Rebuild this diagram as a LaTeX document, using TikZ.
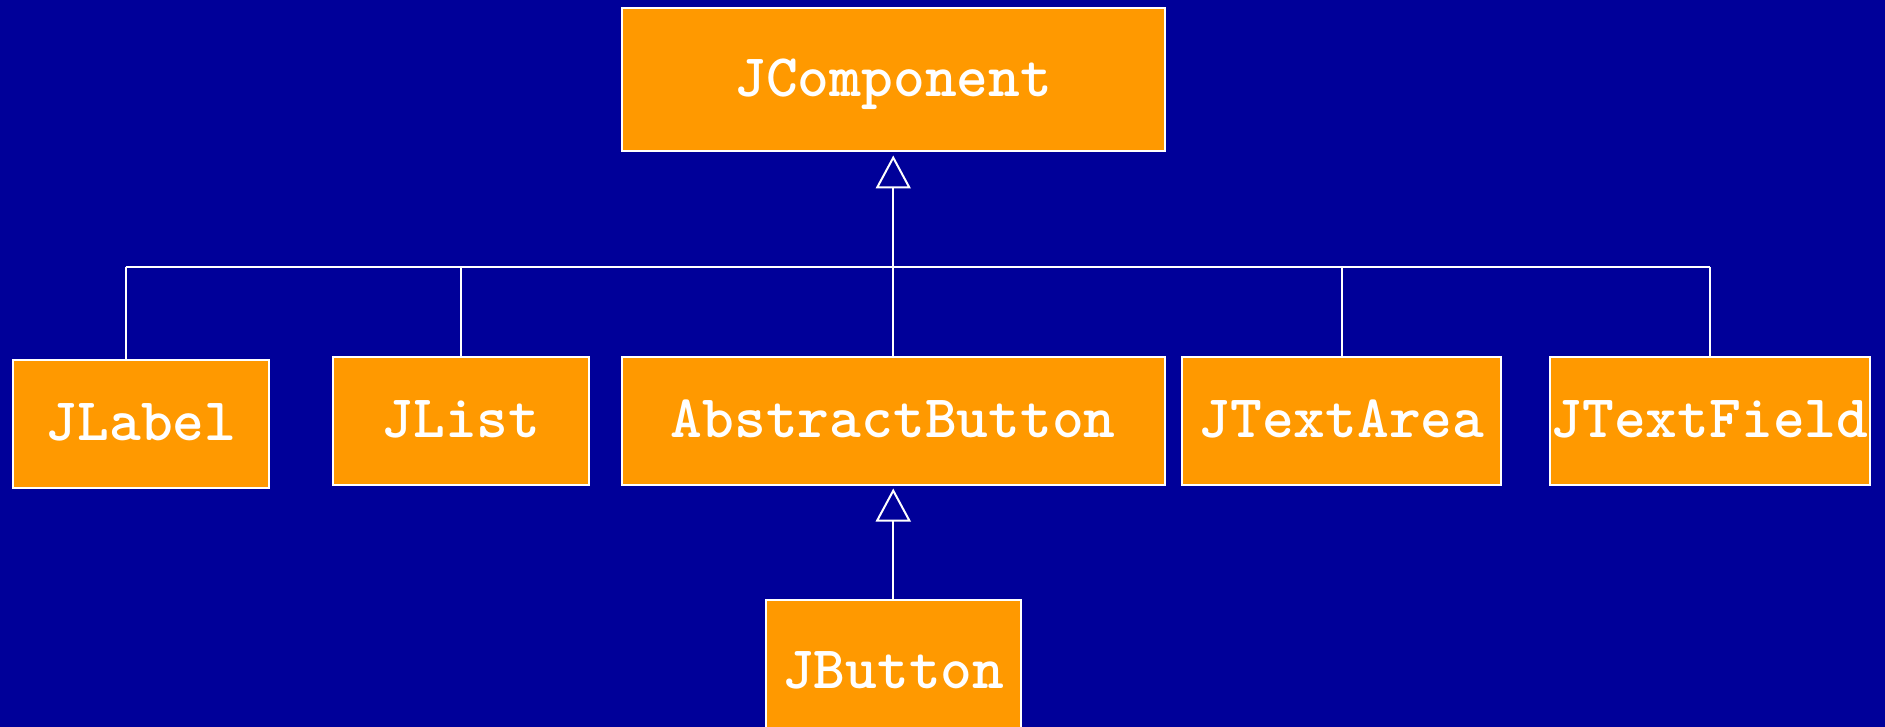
\documentclass[tikz,border=0pt]{standalone}
\usepackage{fontspec}
\usetikzlibrary{arrows.meta}
\definecolor{bgblue}{HTML}{000099}
\definecolor{boxorange}{HTML}{FF9900}
\tikzset{
  cls/.style={draw=white, line width=2pt, fill=boxorange, text=white, inner sep=0pt,
    font=\ttfamily\bfseries\fontsize{60.5}{66}\selectfont, text height=33pt, text depth=0pt},
  conn/.style={draw=white, line width=2pt},
  inh/.style={conn, -{Triangle[open, length=33pt, width=35pt, fill=bgblue]}, shorten >=3pt}
}
\begin{document}
\begin{tikzpicture}[x=1pt,y=-1pt]
\useasboundingbox (0,0) rectangle (1885,727);
\fill[bgblue] (0,0) rectangle (1885,727);
\clip (0,0) rectangle (1885,727);
\node[cls, minimum width=543.5pt, minimum height=143pt] (jc) at (893.25,80) {JComponent};
\node[cls, minimum width=256pt, minimum height=128.5pt] (jlabel) at (141,423.75) {JLabel};
\node[cls, minimum width=256pt, minimum height=127.5pt] (jlist) at (461,420.75) {JList};
\node[cls, minimum width=543.5pt, minimum height=127.5pt] (ab) at (893.25,420.75) {AbstractButton};
\node[cls, minimum width=319.5pt, minimum height=127.5pt] (jta) at (1341.5,420.75) {JTextArea};
\node[cls, minimum width=320pt, minimum height=127.5pt] (jtf) at (1709.5,420.75) {JTextField};
\node[cls, minimum width=255pt, minimum height=143pt] (jb) at (893.25,671.5) {JButton};
\coordinate (barL) at (125.7,267);
\coordinate (barR) at (1709.5,267);
\draw[conn] (barL) -- (barR);
\draw[conn] (jlabel.north -| barL) -- (barL);
\draw[conn] (jlist.north) -- (jlist.north |- barL);
\draw[conn] (jta.north) -- (jta.north |- barL);
\draw[conn] (jtf.north) -- (barR);
\draw[inh] (ab.north) -- (jc.south);
\draw[inh] (jb.north) -- (ab.south);
\end{tikzpicture}
\end{document}
